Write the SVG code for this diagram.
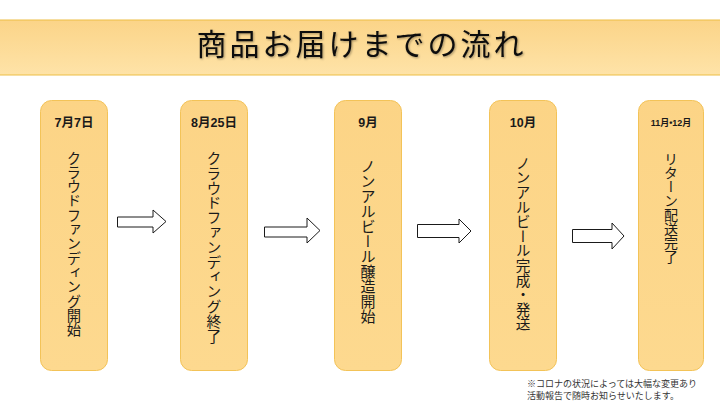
<svg xmlns="http://www.w3.org/2000/svg" width="720" height="405" viewBox="0 0 720 405">
<style>
.box{fill:url(#boxg);stroke:#F3C358;stroke-width:1}
.date{font-family:"Liberation Sans","Noto Sans CJK JP",sans-serif;font-weight:bold;font-size:12.5px;fill:#1a1a1a;text-anchor:middle}
.vt{font-family:"Noto Sans CJK JP",sans-serif;font-size:15px;fill:#1a1a1a;writing-mode:vertical-rl;text-anchor:start}
.arrow{fill:#ffffff;stroke:#1a1a1a;stroke-width:1}
.note{font-family:"Noto Sans CJK JP",sans-serif;font-size:9px;fill:#333333}
</style>
<defs>
<linearGradient id="titleg" x1="0" y1="0" x2="0" y2="1">
<stop offset="0" stop-color="#FBD488"/>
<stop offset="1" stop-color="#FEE3A8"/>
</linearGradient>
<linearGradient id="boxg" x1="0" y1="0" x2="0" y2="1">
<stop offset="0" stop-color="#FCD486"/>
<stop offset="1" stop-color="#FDD98F"/>
</linearGradient>
<filter id="shadow" x="-5%" y="-20%" width="110%" height="140%">
<feDropShadow dx="1" dy="1" stdDeviation="0.8" flood-color="#000" flood-opacity="0.35"/>
</filter>
</defs>
<rect width="720" height="405" fill="#ffffff"/>
<g id="title">
<rect x="-1" y="20" width="722" height="55" fill="url(#titleg)" stroke="#EDBE45" stroke-width="1"/>
<text x="361.5" y="55" font-family="Noto Sans CJK JP, sans-serif" font-size="30" letter-spacing="3" text-anchor="middle" fill="#111" filter="url(#shadow)">商品お届けまでの流れ</text>
</g>
<g id="step1">
<rect class="box" x="40.5" y="100.5" width="67" height="270" rx="11"/>
<text class="date" x="74" y="126.5">7月7日</text>
<text class="vt" x="74" y="151" style="font-size:14.3px">クラウドファンディング開始</text>
</g>
<g id="step2">
<rect class="box" x="180.5" y="100.5" width="67" height="270" rx="11"/>
<text class="date" x="214" y="126.5">8月25日</text>
<text class="vt" x="214" y="151" style="font-size:14.8px">クラウドファンディング終了</text>
</g>
<g id="step3">
<rect class="box" x="334.5" y="100.5" width="67" height="270" rx="11"/>
<text class="date" x="368" y="126.5">9月</text>
<text class="vt" x="368" y="159">ノンアルビール醸造開始</text>
</g>
<g id="step4">
<rect class="box" x="489.5" y="100.5" width="67" height="270" rx="11"/>
<text class="date" x="523" y="126.5">10月</text>
<text class="vt" x="523" y="156" style="font-size:14.6px">ノンアルビール完成・発送</text>
</g>
<g id="step5">
<rect class="box" x="638.5" y="100.5" width="65" height="270" rx="11"/>
<text class="date" x="671" y="125.5" style="font-size:9px">11月•12月</text>
<text class="vt" x="671" y="152" style="font-size:14px">リターン配送完了</text>
</g>
<g id="connectors">
<polygon class="arrow" points="117.5,217 153,217 153,210 166,221.5 153,233 153,227 117.5,227"/>
<polygon class="arrow" points="264.5,227 307,227 307,218 320,230.5 307,243 307,237 264.5,237"/>
<polygon class="arrow" points="417.5,224.5 459,224.5 459,219 471,231 459,243 459,237.5 417.5,237.5"/>
<polygon class="arrow" points="572.5,229.5 612,229.5 612,223 624,236 612,249 612,242.5 572.5,242.5"/>
</g>
<g id="note">
<text class="note" x="527" y="387">※コロナの状況によっては大幅な変更あり</text>
<text class="note" x="527" y="399">活動報告で随時お知らせいたします。</text>
</g>
</svg>
